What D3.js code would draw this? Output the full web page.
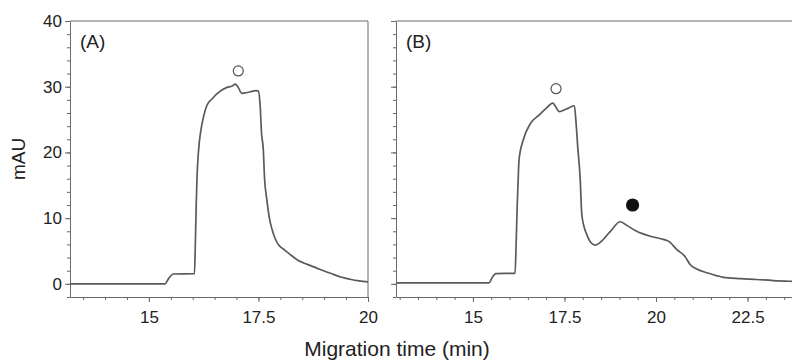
<!DOCTYPE html>
<html>
<head>
<meta charset="utf-8">
<script src="https://cdn.jsdelivr.net/npm/d3@7"></script>
<style>
  body { margin: 0; background: #fff; }
  svg { display: block; font-family: "Liberation Sans", Arial, sans-serif; }
  .axis path, .axis line { stroke: #6a6a6a; }
  .axis text { fill: #222; font-size: 17px; }
  .trace { fill: none; stroke: #5a5a5a; stroke-width: 1.7; }
</style>
</head>
<body>
<div id="chart"></div>
<script>
// Electropherogram values (time in min, absorbance in mAU)
const timeA = [13.2, 14.0, 15.0, 15.37, 15.45, 15.56, 16.04, 16.06, 16.08, 16.10, 16.13, 16.19, 16.25,
  16.32, 16.45, 16.55, 16.78, 16.9, 16.97, 17.03, 17.12, 17.3, 17.45, 17.5, 17.54, 17.57, 17.61, 17.64,
  17.69, 17.75, 17.81, 17.88, 17.96, 18.07, 18.2, 18.4, 18.6, 18.83, 19.0, 19.21, 19.4, 19.59, 19.8, 20.0];
const mauA = [0, 0, 0, 0, 0.8, 1.5, 1.55, 6, 12, 16.5, 20, 23.5, 25.5,
  27.1, 28.2, 28.9, 29.9, 30.1, 30.4, 30.0, 29.0, 29.2, 29.4, 29.3, 27, 23, 20.5, 16,
  12.9, 10, 8.3, 6.9, 5.9, 5.3, 4.6, 3.6, 3.0, 2.4, 1.95, 1.45, 1.0, 0.7, 0.45, 0.3];

const timeB = [12.9, 15.44, 15.52, 15.63, 16.15, 16.18, 16.21, 16.24, 16.26, 16.38, 16.56, 16.83, 17.0,
  17.18, 17.36, 17.55, 17.77, 17.81, 17.86, 17.93, 17.97, 18.03, 18.11, 18.22, 18.34, 18.45, 18.56,
  18.8, 19.02, 19.2, 19.47, 19.84, 20.1, 20.34, 20.57, 20.8, 20.93, 21.1, 21.39, 21.84, 22.3, 22.75,
  23.2, 23.66, 24.0];
const mauB = [0.15, 0.15, 0.9, 1.57, 1.6, 6, 12, 16.5, 18.9, 22, 24.3, 25.8, 26.7,
  27.5, 26.2, 26.6, 27.1, 25, 21, 15.9, 10.8, 8.8, 7.5, 6.3, 5.9, 6.2, 6.75,
  8.3, 9.45, 8.9, 8.0, 7.25, 6.9, 6.5, 5.2, 4.1, 2.94, 2.3, 1.68, 1.0, 0.8, 0.66,
  0.5, 0.4, 0.35];

// Peak markers: open = main zone, filled = second zone
const markersA = [{ t: 17.04, v: 32.4, filled: false }];
const markersB = [{ t: 17.27, v: 29.7, filled: false }, { t: 19.36, v: 12.0, filled: true }];

const yTicks = [0, 10, 20, 30, 40];
const xTicksA = [15, 17.5, 20];
const xTicksB = [15, 17.5, 20, 22.5];

const width = 792;
const height = 361;
const plotTop = 21;
const plotBottom = 297;

const svg = d3.select('#chart').append('svg')
  .attr('width', width)
  .attr('height', height);

const yScale = d3.scaleLinear().domain([-2, 40]).range([plotBottom, plotTop]);

/**************************************************************************
 * drawPanel - frame, axes, trace and markers for one electropherogram
 **************************************************************************/
function drawPanel(opts) {
  const xScale = d3.scaleLinear().domain(opts.domain).range([opts.left, opts.right]);
  const g = svg.append('g');

  // minor ticks every 0.5 min and every 2 mAU
  const xMinor = d3.range(Math.ceil(opts.domain[0] * 2) / 2, opts.domain[1] + 0.001, 0.5);
  const yMinor = d3.range(-2, 40.001, 2);

  g.append('g')
    .attr('class', 'axis')
    .attr('transform', 'translate(0,' + plotBottom + ')')
    .call(d3.axisBottom(xScale).tickValues(xMinor).tickSize(3).tickFormat(''))
    .call((a) => a.select('.domain').remove());
  g.append('g')
    .attr('class', 'axis')
    .attr('transform', 'translate(' + opts.left + ',0)')
    .call(d3.axisLeft(yScale).tickValues(yMinor).tickSize(3).tickFormat(''))
    .call((a) => a.select('.domain').remove());

  g.append('g')
    .attr('class', 'axis')
    .attr('transform', 'translate(0,' + plotBottom + ')')
    .call(d3.axisBottom(xScale).tickValues(opts.xTicks).tickSize(5).tickPadding(6).tickSizeOuter(0)
      .tickFormat(d3.format('~f')))
    .call((a) => a.selectAll('text').attr('dy', '0.9em'));
  g.append('g')
    .attr('class', 'axis')
    .attr('transform', 'translate(' + opts.left + ',0)')
    .call(d3.axisLeft(yScale).tickValues(yTicks).tickSize(5).tickPadding(3).tickSizeOuter(0)
      .tickFormat(opts.yLabels ? d3.format('d') : ''));

  // top and right border of the frame
  g.append('path')
    .attr('d', 'M' + opts.left + ',' + plotTop + 'H' + opts.right + 'V' + plotBottom)
    .attr('fill', 'none')
    .attr('stroke', '#6a6a6a');

  const clipId = 'clip-' + opts.id;
  svg.append('clipPath').attr('id', clipId)
    .append('rect')
    .attr('x', opts.left).attr('y', plotTop)
    .attr('width', opts.right - opts.left).attr('height', plotBottom - plotTop);

  const line = d3.line()
    .x((d) => xScale(d[0]))
    .y((d) => yScale(d[1]))
    .curve(d3.curveMonotoneX);

  g.append('path')
    .datum(d3.zip(opts.time, opts.mau))
    .attr('class', 'trace')
    .attr('clip-path', 'url(#' + clipId + ')')
    .attr('d', line);

  g.selectAll('.marker')
    .data(opts.markers)
    .enter()
    .append('circle')
    .attr('class', 'marker')
    .attr('cx', (m) => xScale(m.t))
    .attr('cy', (m) => yScale(m.v))
    .attr('r', (m) => m.filled ? 6 : 5)
    .style('fill', (m) => m.filled ? '#111' : '#fff')
    .style('stroke', (m) => m.filled ? '#111' : '#555')
    .style('stroke-width', 1.2);

  g.append('text')
    .attr('x', opts.left + 10)
    .attr('y', 48)
    .style('font-size', '19px')
    .style('fill', '#222')
    .text(opts.name);
}

drawPanel({
  id: 'a', name: '(A)', left: 70, right: 368, domain: [13.2, 20],
  time: timeA, mau: mauA, markers: markersA, xTicks: xTicksA, yLabels: true
});
drawPanel({
  id: 'b', name: '(B)', left: 396, right: 793, domain: [12.9, 23.74],
  time: timeB, mau: mauB, markers: markersB, xTicks: xTicksB, yLabels: false
});

// Axis titles
svg.append('text')
  .attr('transform', 'translate(25,' + ((plotTop + plotBottom) / 2) + ') rotate(-90)')
  .attr('text-anchor', 'middle')
  .style('font-size', '19px')
  .style('fill', '#222')
  .text('mAU');

svg.append('text')
  .attr('x', 397)
  .attr('y', 356)
  .attr('text-anchor', 'middle')
  .style('font-size', '21px')
  .style('fill', '#222')
  .text('Migration time (min)');
</script>
</body>
</html>
